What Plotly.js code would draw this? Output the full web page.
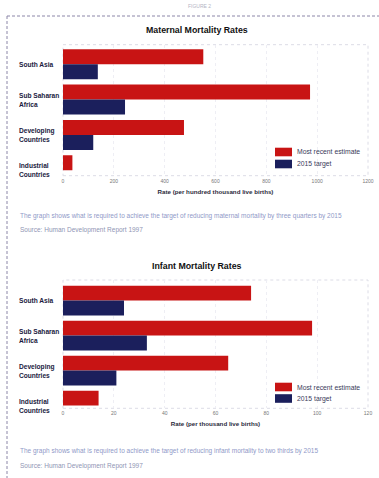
<!DOCTYPE html>
<html>
<head>
<meta charset="utf-8">
<script src="https://cdn.plot.ly/plotly-3.0.1.min.js"></script>
<style>
html,body{margin:0;padding:0;background:#fff;}
#chart{width:379px;height:478px;}
</style>
</head>
<body>
<div id="chart"></div>
<script>
// ---- data ----
var categories = ["South Asia", "Sub Saharan Africa", "Developing Countries", "Industrial Countries"];
var categoryLabels = ["South Asia", "Sub Saharan<br>Africa", "Developing<br>Countries", "Industrial<br>Countries"];
var seriesNames = ["Most recent estimate", "2015 target"];

var maternalRecent = [552, 972, 476, 37];
var maternalTarget = [137, 244, 119, null];
var maternalTicks = [0, 200, 400, 600, 800, 1000, 1200];

var infantRecent = [74, 98, 65, 14];
var infantTarget = [24, 33, 21, null];
var infantTicks = [0, 20, 40, 60, 80, 100, 120];

var titles = ["Maternal Mortality Rates", "Infant Mortality Rates"];
var axisTitles = ["Rate (per hundred thousand live births)", "Rate (per thousand live births)"];
var captions = [
  "The graph shows what is required to achieve the target of reducing maternal mortality by three quarters by 2015",
  "The graph shows what is required to achieve the target of reducing infant mortality to two thirds by 2015"
];
var sources = ["Source: Human Development Report 1997", "Source: Human Development Report 1997"];

// ---- styling ----
var W = 379, H = 478;
var RED = "#c81414", NAVY = "#1b1f5c";
var colors = [RED, NAVY];
var FONT = "Liberation Sans, Arial, sans-serif";
function px(x){ return x / W; }
function py(y){ return 1 - y / H; }

var traces = [
  {type:"bar", orientation:"h", name:seriesNames[0], y:categories, x:maternalRecent, xaxis:"x", yaxis:"y", marker:{color:colors[0]}, showlegend:false},
  {type:"bar", orientation:"h", name:seriesNames[1], y:categories, x:maternalTarget, xaxis:"x", yaxis:"y", marker:{color:colors[1]}, showlegend:false},
  {type:"bar", orientation:"h", name:seriesNames[0], y:categories, x:infantRecent, xaxis:"x2", yaxis:"y2", marker:{color:colors[0]}, showlegend:false},
  {type:"bar", orientation:"h", name:seriesNames[1], y:categories, x:infantTarget, xaxis:"x2", yaxis:"y2", marker:{color:colors[1]}, showlegend:false}
];

function xAxis(ticks, anchor, title){
  return {
    domain:[px(63), px(368)], anchor:anchor,
    range:[ticks[0], ticks[ticks.length-1]],
    tickvals:ticks, ticktext:ticks.map(String),
    ticks:"", showline:false, zeroline:false,
    showgrid:true, gridcolor:"#eeeef4", griddash:"dot", gridwidth:1,
    tickfont:{family:FONT, size:5, color:"#777"},
    ticklabelstandoff:1,
    title:{text:"<b>"+title+"</b>", font:{family:FONT, size:6.2, color:"#2a2a3a"}, standoff:6},
    fixedrange:true
  };
}
function yAxis(dom, rng, anchor){
  return {
    domain:dom, anchor:anchor, type:"category",
    categoryorder:"array", categoryarray:categories,
    range:rng, showticklabels:false, ticks:"", showgrid:false, zeroline:false, showline:false,
    fixedrange:true
  };
}

var annotations = [];
var shapes = [];

// top label
annotations.push({xref:"paper", yref:"paper", x:px(199), y:py(6), text:"FIGURE 2", showarrow:false,
  font:{family:FONT, size:5, color:"#b4b4c4"}, xanchor:"center", yanchor:"middle"});

var panels = [
  {yref:"y", xref:"x", titleY:30, legY:[152, 164], capY:216, srcY:230},
  {yref:"y2", xref:"x2", titleY:266, legY:[387, 398.5], capY:451, srcY:466}
];

panels.forEach(function(p, i){
  annotations.push({xref:"paper", yref:"paper", x:px(197), y:py(p.titleY), text:"<b>"+titles[i]+"</b>",
    showarrow:false, font:{family:FONT, size:8.8, color:"#111"}, xanchor:"center", yanchor:"middle"});
  categories.forEach(function(c, k){
    annotations.push({xref:"paper", yref:p.yref, x:px(17), y:c, text:"<b>"+categoryLabels[k]+"</b>",
      showarrow:false, align:"left", xanchor:"left", yanchor:"middle",
      font:{family:FONT, size:6.6, color:"#1a1a40"}});
  });
  // legend (swatch + text)
  seriesNames.forEach(function(n, k){
    var cy = p.legY[k];
    shapes.push({type:"rect", xref:"paper", yref:"paper", x0:px(275), x1:px(292), y0:py(cy-4.3), y1:py(cy+4.3),
      fillcolor:colors[k], line:{width:0}});
    annotations.push({xref:"paper", yref:"paper", x:px(295), y:py(cy), text:n, showarrow:false,
      xanchor:"left", yanchor:"middle", font:{family:FONT, size:6.8, color:"#3a3a5a"}});
  });
  annotations.push({xref:"paper", yref:"paper", x:px(18), y:py(p.capY), text:captions[i], showarrow:false,
    xanchor:"left", yanchor:"middle", font:{family:FONT, size:6.5, color:"#8f99c8"}});
  annotations.push({xref:"paper", yref:"paper", x:px(18), y:py(p.srcY), text:sources[i], showarrow:false,
    xanchor:"left", yanchor:"middle", font:{family:FONT, size:6.5, color:"#9095b4"}});
  // dotted plot frame
  shapes.push({type:"rect", xref:p.xref+" domain", yref:p.yref+" domain", x0:0, x1:1, y0:0, y1:1,
    line:{color:"#dcdce6", width:1, dash:"dot"}, layer:"below"});
});

// figure dashed border
shapes.push({type:"line", xref:"paper", yref:"paper", x0:px(7), x1:1, y0:py(16), y1:py(16),
  line:{color:"#8c86a8", width:1, dash:"3px,2px"}});
shapes.push({type:"line", xref:"paper", yref:"paper", x0:px(7), x1:px(7), y0:py(16), y1:0,
  line:{color:"#8c86a8", width:1, dash:"3px,2px"}});

var layout = {
  width:W, height:H, margin:{l:0, r:0, t:0, b:0},
  paper_bgcolor:"#fff", plot_bgcolor:"#fff",
  barmode:"group", bargap:0.15, bargroupgap:0,
  showlegend:false,
  xaxis:xAxis(maternalTicks, "y", axisTitles[0]),
  yaxis:yAxis([py(175.7), py(44.7)], [3.156, -0.555], "x"),
  xaxis2:xAxis(infantTicks, "y2", axisTitles[1]),
  yaxis2:yAxis([py(408.3), py(280)], [3.08, -0.586], "x2"),
  annotations:annotations, shapes:shapes,
  font:{family:FONT}
};

Plotly.newPlot("chart", traces, layout, {displayModeBar:false, staticPlot:true});
</script>
</body>
</html>
